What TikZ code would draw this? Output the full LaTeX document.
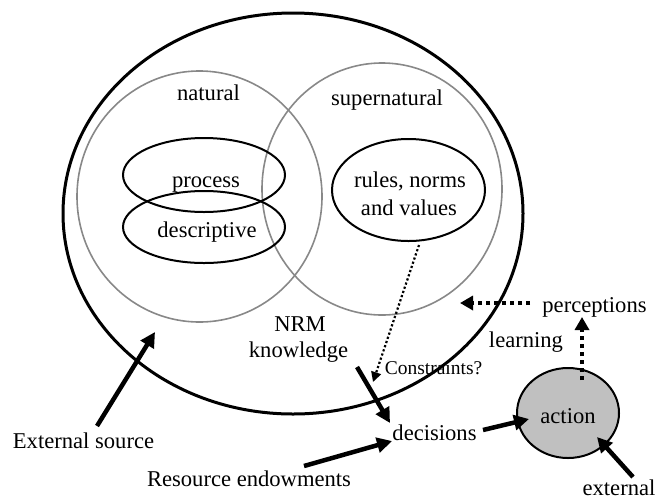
\documentclass[tikz,border=0pt]{standalone}
\usepackage{fontspec}
\setmainfont{Liberation Serif}
\usetikzlibrary{arrows.meta,shapes.geometric}
\definecolor{venngray}{RGB}{136,136,136}
\definecolor{actgray}{RGB}{192,192,192}
\begin{document}
\begin{tikzpicture}[x=1pt,y=-1pt,
  txt/.style={font=\fontsize{22.6}{25}\selectfont, inner sep=0pt, anchor=base},
  smalltxt/.style={font=\fontsize{19.5}{22}\selectfont, inner sep=0pt, anchor=base},
  oval/.style={draw, ellipse, inner sep=0pt, line width=2pt},
  venn/.style={draw=venngray, ellipse, inner sep=0pt, line width=1.6pt},
  solidarrow/.style={line width=4.5pt, -{Triangle[length=15pt,width=15pt]}},
  dotarrow/.style={line width=4pt, dash pattern=on 4pt off 4pt, -{Triangle[length=13pt,width=14pt]}},
  thindot/.style={line width=2.2pt, dash pattern=on 2.2pt off 2.2pt, -{Triangle[length=10pt,width=10pt]}}
]
\useasboundingbox (0,0) rectangle (660,499);

% ellipses
\node[venn, minimum width=245pt, minimum height=251pt] (nat) at (199.5,196.5) {};
\node[venn, minimum width=240pt, minimum height=252pt] (sup) at (382,189) {};
\node[oval, line width=3pt, minimum width=460pt, minimum height=401pt] (big) at (293,213.5) {};
\node[oval, minimum width=162pt, minimum height=74pt] (proc) at (204,175) {};
\node[oval, minimum width=162pt, minimum height=72pt] (desc) at (204,227) {};
\node[oval, minimum width=153pt, minimum height=102pt] (rules) at (408.5,190) {};
\node[oval, fill=actgray, minimum width=102pt, minimum height=90pt] (act) at (568,413) {};

% texts
\node[txt] (tnat) at (208.5,100) {natural};
\node[txt] (tsup) at (387,105) {supernatural};
\node[txt] (tproc) at (206,187) {process};
\node[txt] (tdesc) at (207,237) {descriptive};
\node[txt] (trules1) at (410,187) {rules, norms};
\node[txt] (trules2) at (409,215) {and values};
\node[txt] (tnrm) at (300,331) {NRM};
\node[txt] (tknow) at (298.5,357) {knowledge};
\node[smalltxt] (tcons) at (433.5,374) {Constraints?};
\node[txt] (tdec) at (434.5,440) {decisions};
\node[txt] (text) at (83.5,448) {External source};
\node[txt] (tres) at (249,486) {Resource endowments};
\node[txt] (tperc) at (594.5,312) {perceptions};
\node[txt] (tlearn) at (526,347) {learning};
\node[txt] (tact) at (568,423) {action};
\node[txt] (texternal) at (619,495) {external};

% connector end points
\coordinate (es1) at (97,426);
\coordinate (es2) at (155,332);
\coordinate (ru1) at (419,245);
\coordinate (ru2) at (373,382);
\coordinate (kn1) at (357,367);
\coordinate (kn2) at (390,423);
\coordinate (re1) at (304,466);
\coordinate (re2) at (392,441);
\coordinate (de1) at (483,430);
\coordinate (de2) at (529,419);
\coordinate (ex1) at (633,477);
\coordinate (ex2) at (597,437);
\coordinate (ac1) at (582,380);
\coordinate (ac2) at (582,317);
\coordinate (pe1) at (530,303);
\coordinate (pe2) at (460,303);

% connectors
\draw[solidarrow] (es1) -- (es2);
\draw[thindot] (ru1) -- (ru2);
\draw[solidarrow] (kn1) -- (kn2);
\draw[solidarrow] (re1) -- (re2);
\draw[solidarrow] (de1) -- (de2);
\draw[solidarrow] (ex1) -- (ex2);
\draw[dotarrow] (ac1) -- (ac2);
\draw[dotarrow] (pe1) -- (pe2);
\end{tikzpicture}
\end{document}
